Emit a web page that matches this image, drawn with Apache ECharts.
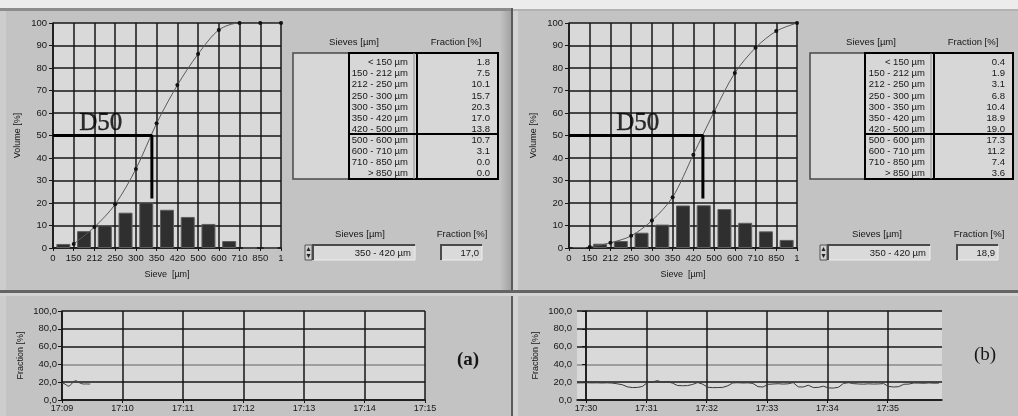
<!DOCTYPE html>
<html>
<head>
<meta charset="utf-8">
<script src="https://cdn.jsdelivr.net/npm/echarts@6/dist/echarts.min.js"></script>
<style>
  html, body { margin: 0; padding: 0; background: #c3c3c3; }
  #chart { width: 1018px; height: 416px; }
</style>
</head>
<body>
<div id="chart"></div>
<script>
// ---- sieve analysis data ----
const sieveTicks = ['0', '150', '212', '250', '300', '350', '420', '500', '600', '710', '850', '1'];
const sieveRanges = ['< 150 µm', '150 - 212 µm', '212 - 250 µm', '250 - 300 µm', '300 - 350 µm',
  '350 - 420 µm', '420 - 500 µm', '500 - 600 µm', '600 - 710 µm', '710 - 850 µm', '> 850 µm'];
const fractionA = [1.8, 7.5, 10.1, 15.7, 20.3, 17.0, 13.8, 10.7, 3.1, 0.0, 0.0];
const fractionB = [0.4, 1.9, 3.1, 6.8, 10.4, 18.9, 19.0, 17.3, 11.2, 7.4, 3.6];
// cumulative volume at the upper edge of each sieve class (tick 1..11)
const volumeA = [1.8, 9.3, 19.4, 35.1, 55.4, 72.4, 86.2, 96.9, 100, 100, 100];
const volumeB = [0.4, 2.3, 5.4, 12.2, 22.6, 41.5, 60.5, 77.8, 89.0, 96.4, 100];
// D50 marker position on the sieve tick scale, and where its stem stops
const d50A = 4.77;
const d50B = 6.46;
const d50Stem = 22;
const selectedRow = 5;

// ---- fraction trend data ----
const timeLabelsA = ['17:09', '17:10', '17:11', '17:12', '17:13', '17:14', '17:15'];
const timeLabelsB = ['17:30', '17:31', '17:32', '17:33', '17:34', '17:35'];
// seconds after 17:09:00, sampled every 2 s
const trendStepA = 2;
const trendA = [18.6, 18.4, 17.2, 15.4, 16.2, 19.0, 21.0, 21.8, 20.2, 18.9, 18.2, 17.9, 18.1, 17.9, 18.0];
// seconds relative to 17:30:00, first sample at -9 s, every 5 s
const trendStartB = -9;
const trendStepB = 5;
const trendB = [19.2, 19.3, 19.4, 19.2, 19.3, 19.1, 19.3, 19.0, 18.2, 17.2,
  14.8, 14.0, 14.1, 15.2, 19.5, 20.2, 21.8, 19.8, 20.6, 18.9,
  16.3, 16.0, 16.2, 17.5, 19.6, 17.8, 14.3, 13.9, 14.0, 14.2,
  16.0, 19.2, 19.4, 19.1, 19.3, 18.6, 15.0, 14.6, 17.6, 18.0,
  18.3, 17.9, 18.2, 19.5, 14.8, 14.6, 16.6, 14.0, 14.2, 15.5,
  13.6, 13.4, 14.3, 18.6, 19.4, 18.4, 18.0, 17.8, 18.2, 17.9,
  18.1, 18.4, 15.2, 14.6, 15.0, 17.7, 17.9, 19.1, 19.0, 18.8,
  19.2, 18.9, 19.0];
const tickSecondsB = [0, 60, 120, 180, 240, 300];

// ---- styling ----
const FONT = '"Liberation Sans", Arial, sans-serif';
const SERIF = '"Liberation Serif", "Times New Roman", serif';
const INK = '#161616';
const PLOT_BG = '#d9d9d9';
const CELL_BG = '#d7d7d7';

function sieveXAxis(gi) {
  return {
    type: 'value', gridIndex: gi, min: 0, max: 11, interval: 1,
    axisLine: { show: true, lineStyle: { color: INK, width: 1.5 } },
    axisTick: { show: true, length: 3, lineStyle: { color: INK } },
    axisLabel: { formatter: v => sieveTicks[v], fontFamily: FONT, fontSize: 9.5, color: INK, margin: 5 },
    splitLine: { show: true, lineStyle: { color: INK, width: 1.5 } },
    name: 'Sieve  [µm]', nameLocation: 'middle', nameGap: 22,
    nameTextStyle: { fontFamily: FONT, fontSize: 9, color: INK }
  };
}
function classAxis(gi) {
  return { type: 'category', gridIndex: gi, data: sieveRanges, boundaryGap: true, show: false };
}
function volumeYAxis(gi) {
  return {
    type: 'value', gridIndex: gi, min: 0, max: 100, interval: 10,
    axisLine: { show: true, lineStyle: { color: INK, width: 1.5 } },
    axisTick: { show: true, length: 4, lineStyle: { color: INK } },
    axisLabel: { fontFamily: FONT, fontSize: 9.5, color: INK, margin: 6 },
    splitLine: { show: true, lineStyle: { color: INK, width: 1.5 } },
    name: 'Volume [%]', nameLocation: 'middle', nameGap: 31, nameRotate: 90,
    nameTextStyle: { fontFamily: FONT, fontSize: 9, color: INK }
  };
}
function timeAxis(gi, extra) {
  return Object.assign({
    type: 'value', gridIndex: gi,
    axisLine: { show: true, lineStyle: { color: INK, width: 1.5 } },
    axisTick: { show: true, length: 3, lineStyle: { color: INK } },
    splitLine: { show: true, lineStyle: { color: INK, width: 1.5 } }
  }, extra);
}
function fractionYAxis(gi) {
  return {
    type: 'value', gridIndex: gi, min: 0, max: 100, interval: 20,
    axisLine: { show: true, lineStyle: { color: INK, width: 1.5 } },
    axisTick: { show: true, length: 4, lineStyle: { color: INK } },
    axisLabel: { formatter: v => v.toFixed(1).replace('.', ','), fontFamily: FONT, fontSize: 9.5, color: INK, margin: 5 },
    splitLine: { show: true, lineStyle: { color: [INK, INK, '#8a8a8a', INK, INK, INK], width: 1.5 } },
    name: 'Fraction [%]', nameLocation: 'middle', nameGap: 37, nameRotate: 90,
    nameTextStyle: { fontFamily: FONT, fontSize: 9, color: INK }
  };
}

function sieveSeries(xVal, xCat, yi, fractions, volume, d50, labelX) {
  return [
    { type: 'bar', xAxisIndex: xCat, yAxisIndex: yi, data: fractions, barWidth: 14, z: 2,
      itemStyle: { color: '#2f2f2f', borderColor: '#5e5e5e', borderWidth: 1 } },
    { type: 'line', xAxisIndex: xVal, yAxisIndex: yi, data: volume.map((v, i) => [i + 1, v]),
      smooth: 0.3, symbol: 'circle', symbolSize: 4, z: 3,
      itemStyle: { color: '#111' }, lineStyle: { color: '#5a5a5a', width: 1 } },
    { type: 'line', xAxisIndex: xVal, yAxisIndex: yi, data: [[0, 50], [d50, 50], [d50, d50Stem]],
      symbol: 'none', z: 4, lineStyle: { color: '#000', width: 3 } },
    { type: 'scatter', xAxisIndex: xVal, yAxisIndex: yi, data: [[labelX, 55.5]], symbolSize: 1, z: 5,
      itemStyle: { color: 'rgba(0,0,0,0)' },
      label: { show: true, position: 'inside', formatter: 'D50', fontFamily: SERIF, fontSize: 25,
        color: '#000', textBorderColor: '#000', textBorderWidth: 0.4 } }
  ];
}

// ---- panel furniture ----
function rect(x, y, w, h, style) {
  return { type: 'rect', silent: true, shape: { x, y, width: w, height: h }, style };
}
function seg(x1, y1, x2, y2, stroke, lineWidth) {
  return { type: 'line', silent: true, shape: { x1, y1, x2, y2 }, style: { stroke, lineWidth } };
}
function txt(x, y, text, align, size, extra) {
  return { type: 'text', silent: true, x, y,
    style: Object.assign({ text, fill: INK, fontFamily: FONT, fontSize: size || 9.5, align: align || 'center', verticalAlign: 'middle' }, extra || {}) };
}
function sunkenBox(x, y, w, h) {
  return [
    rect(x, y, w, h, { fill: '#dadada' }),
    { type: 'polyline', silent: true, shape: { points: [[x, y + h], [x, y], [x + w, y]] }, style: { stroke: '#4a4a4a', lineWidth: 2, fill: 'none' } },
    { type: 'polyline', silent: true, shape: { points: [[x + 1, y + h], [x + w, y + h], [x + w, y + 1]] }, style: { stroke: '#efefef', lineWidth: 1, fill: 'none' } }
  ];
}
function spinner(x, y) {
  return [
    rect(x, y, 7, 15, { fill: '#cfcfcf', stroke: '#555', lineWidth: 1 }),
    { type: 'polygon', silent: true, shape: { points: [[x + 1.5, y + 6], [x + 5.5, y + 6], [x + 3.5, y + 2]] }, style: { fill: '#222' } },
    { type: 'polygon', silent: true, shape: { points: [[x + 1.5, y + 9], [x + 5.5, y + 9], [x + 3.5, y + 13]] }, style: { fill: '#222' } }
  ];
}
function sieveTable(p, fractions) {
  const top = 53, bottom = 179, rowTop = 62.7, rowH = 11.07;
  const els = [
    rect(p.x, top, p.right - p.x, bottom - top, { fill: CELL_BG, stroke: '#4a4a4a', lineWidth: 1.5 }),
    rect(p.colA, top, p.right - p.colA, bottom - top, { fill: 'none', stroke: '#000', lineWidth: 2 }),
    seg(p.colB - 3, top, p.colB - 3, bottom, '#8c8c8c', 1),
    seg(p.colB, top, p.colB, bottom, '#000', 2),
    seg(p.colA, 134, p.right, 134, '#000', 2),
    txt(p.x + 61, 42, 'Sieves [µm]', 'center', 9.5),
    txt(p.x + 163, 42, 'Fraction [%]', 'center', 9.5)
  ];
  sieveRanges.forEach((r, i) => {
    els.push(txt(p.colB - 9, rowTop + i * rowH, r, 'right', 9.5));
    els.push(txt(p.right - 8, rowTop + i * rowH, fractions[i].toFixed(1), 'right', 9.5));
  });
  // selected class readout
  els.push(txt(p.x + 67, 234, 'Sieves [µm]', 'center', 9.5));
  els.push(...spinner(p.spin, 245));
  els.push(...sunkenBox(p.box, 245, 102, 15));
  els.push(txt(p.box + 98, 253, sieveRanges[selectedRow], 'right', 9.5));
  els.push(txt(p.x + 169, 234, 'Fraction [%]', 'center', 9.5));
  els.push(...sunkenBox(p.fbox, 245, 41, 15));
  els.push(txt(p.fbox + 38, 253, fractions[selectedRow].toFixed(1).replace('.', ','), 'right', 9.5));
  return els;
}

const furniture = [
  rect(0, 0, 1018, 9, { fill: '#ececec' }),
  rect(0, 8, 511, 3, { fill: '#8c8c8c' }),
  rect(513, 9, 505, 2, { fill: '#b2b2b2' }),
  rect(0, 11, 6, 279, { fill: '#cdcdcd' }),
  rect(0, 296, 6, 120, { fill: '#cdcdcd' }),
  rect(500, 11, 11, 279, { fill: { type: 'linear', x: 0, y: 0, x2: 1, y2: 0,
    colorStops: [{ offset: 0, color: '#c3c3c3' }, { offset: 1, color: '#a2a2a2' }] } }),
  rect(511, 8, 2, 408, { fill: '#5a5a5a' }),
  rect(513, 11, 5, 405, { fill: '#d3d3d3' }),
  rect(0, 290, 1018, 3, { fill: '#646464' }),
  rect(0, 293, 1018, 3, { fill: '#d3d3d3' }),
  ...sieveTable({ x: 293, colA: 349, colB: 417, right: 498, spin: 305, box: 313, fbox: 441 }, fractionA),
  ...sieveTable({ x: 810, colA: 865, colB: 934, right: 1013, spin: 820, box: 828, fbox: 957 }, fractionB),
  txt(468, 360, '(a)', 'center', 19, { fontFamily: SERIF, fontWeight: 'bold' }),
  txt(985, 355, '(b)', 'center', 19, { fontFamily: SERIF })
];

const chart = echarts.init(document.getElementById('chart'), null, { renderer: 'canvas' });
chart.setOption({
  animation: false,
  backgroundColor: '#c3c3c3',
  grid: [
    { left: 53, top: 23, width: 228, height: 225, show: true, backgroundColor: PLOT_BG, borderWidth: 0 },
    { left: 569, top: 23, width: 228, height: 225, show: true, backgroundColor: PLOT_BG, borderWidth: 0 },
    { left: 62, top: 311, width: 363, height: 89, show: true, backgroundColor: PLOT_BG, borderWidth: 0 },
    { left: 577, top: 311, width: 365, height: 89, show: true, backgroundColor: PLOT_BG, borderWidth: 0 }
  ],
  xAxis: [
    sieveXAxis(0), classAxis(0),
    sieveXAxis(1), classAxis(1),
    timeAxis(2, { min: 0, max: 360, interval: 60,
      axisLabel: { formatter: v => timeLabelsA[v / 60], fontFamily: FONT, fontSize: 9, color: INK, margin: 4 } }),
    timeAxis(3, { min: -9, max: 354,
      axisTick: { show: true, length: 3, customValues: tickSecondsB, lineStyle: { color: INK } },
      axisLabel: { customValues: tickSecondsB, formatter: v => timeLabelsB[Math.round(v / 60)], fontFamily: FONT, fontSize: 9, color: INK, margin: 4 } })
  ],
  yAxis: [volumeYAxis(0), volumeYAxis(1), fractionYAxis(2), fractionYAxis(3)],
  series: [
    ...sieveSeries(0, 1, 0, fractionA, volumeA, d50A, 2.3),
    ...sieveSeries(2, 3, 1, fractionB, volumeB, d50B, 3.32),
    { type: 'line', xAxisIndex: 4, yAxisIndex: 2, showSymbol: false, z: 3,
      data: trendA.map((v, i) => [i * trendStepA, v]), lineStyle: { color: '#454545', width: 1 } },
    { type: 'line', xAxisIndex: 5, yAxisIndex: 3, showSymbol: false, z: 3,
      data: trendB.map((v, i) => [trendStartB + i * trendStepB, v]), lineStyle: { color: '#3a3a3a', width: 1 } }
  ],
  graphic: { elements: furniture }
});
</script>
</body>
</html>
